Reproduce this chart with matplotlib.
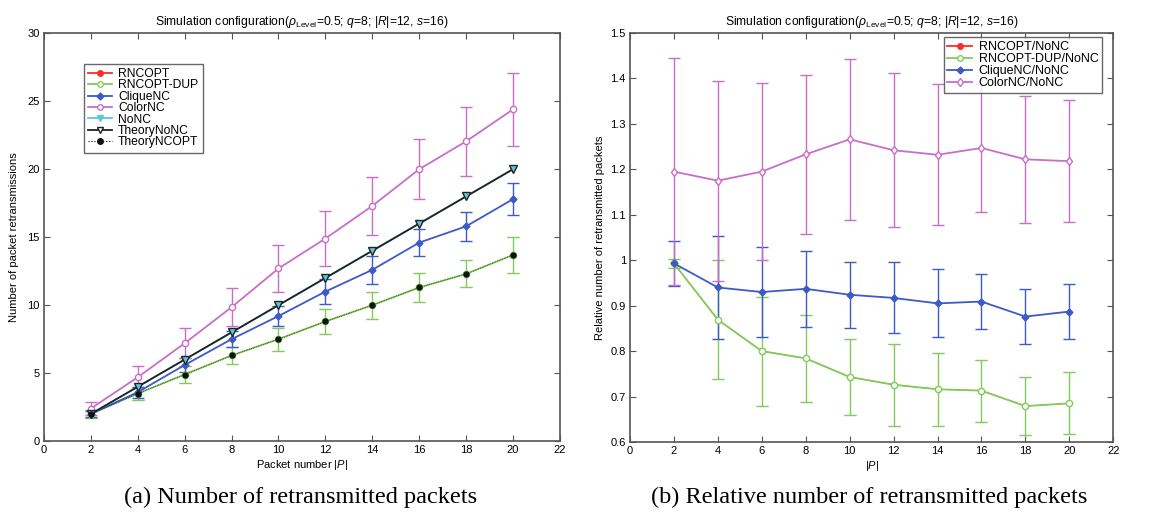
import matplotlib.pyplot as plt
from matplotlib.lines import Line2D

plt.rcParams['font.family'] = ['Liberation Sans', 'DejaVu Sans']
plt.rcParams['mathtext.fontset'] = 'custom'
plt.rcParams['mathtext.rm'] = 'Liberation Sans'
plt.rcParams['mathtext.it'] = 'Liberation Sans:italic'

packets = [2, 4, 6, 8, 10, 12, 14, 16, 18, 20]

# (a) absolute retransmissions
rncopt = [2.0, 3.5, 4.9, 6.3, 7.5, 8.8, 10.0, 11.3, 12.3, 13.7]
rncopt_err = [0.3, 0.5, 0.6, 0.6, 0.85, 0.9, 1.0, 1.1, 1.0, 1.3]
rncopt_dup = [2.0, 3.5, 4.9, 6.3, 7.5, 8.8, 10.0, 11.3, 12.3, 13.7]
rncopt_dup_err = [0.3, 0.5, 0.6, 0.6, 0.85, 0.9, 1.0, 1.1, 1.0, 1.35]
clique = [2.0, 3.6, 5.6, 7.5, 9.2, 11.0, 12.6, 14.6, 15.8, 17.8]
clique_err = [0.25, 0.4, 0.5, 0.6, 0.75, 0.9, 1.05, 1.0, 1.05, 1.2]
color = [2.4, 4.7, 7.2, 9.85, 12.7, 14.9, 17.3, 20.0, 22.05, 24.4]
color_err = [0.45, 0.8, 1.1, 1.4, 1.75, 2.0, 2.15, 2.2, 2.55, 2.7]
nonc = [2, 4, 6, 8, 10, 12, 14, 16, 18, 20]
theory_nonc = [2, 4, 6, 8, 10, 12, 14, 16, 18, 20]
theory_ncopt = [2.0, 3.5, 4.9, 6.3, 7.5, 8.8, 10.0, 11.3, 12.3, 13.7]

# (b) ratios against NoNC
r_rncopt = [0.993, 0.869, 0.80, 0.784, 0.743, 0.726, 0.716, 0.713, 0.679, 0.685]
r_rncopt_err = [0.01, 0.131, 0.12, 0.095, 0.083, 0.09, 0.08, 0.068, 0.063, 0.068]
r_dup = [0.993, 0.869, 0.80, 0.784, 0.743, 0.726, 0.716, 0.713, 0.679, 0.685]
r_dup_err = [0.01, 0.131, 0.12, 0.095, 0.083, 0.09, 0.08, 0.068, 0.063, 0.068]
r_clique = [0.993, 0.940, 0.930, 0.937, 0.924, 0.917, 0.905, 0.909, 0.876, 0.887]
r_clique_err = [0.05, 0.114, 0.1, 0.083, 0.073, 0.078, 0.075, 0.06, 0.06, 0.06]
r_color = [1.195, 1.175, 1.195, 1.233, 1.266, 1.242, 1.232, 1.247, 1.222, 1.218]
r_color_err = [0.25, 0.22, 0.195, 0.175, 0.177, 0.17, 0.155, 0.14, 0.14, 0.134]

RED = '#ff2a2a'
GREEN = '#80cc58'
BLUE = '#3c5ac8'
PINK = '#c86ec8'
CYAN = '#5ac8dc'
BLACK = '#222222'

title = (r'Simulation configuration($\rho_{\mathrm{Level}}$=0.5; $q$=8; |$R$|=12, $s$=16)')

fig = plt.figure(figsize=(11.56, 5.19), dpi=100)
ax1 = fig.add_axes([0.038, 0.150, 0.4464, 0.786])
ax2 = fig.add_axes([0.545, 0.1484, 0.418, 0.788])

eb = dict(capsize=4, lw=1.3, elinewidth=1.0, capthick=1.0, ms=4.5)
# the red series sits under the green one, keep it thin so it does not tint it
red_eb = dict(capsize=4, lw=0.6, elinewidth=0.4, capthick=0.4, ms=3.5, zorder=1)

ax1.errorbar(packets, rncopt, yerr=rncopt_err, color=RED, marker='o', **red_eb)
ax1.errorbar(packets, rncopt_dup, yerr=rncopt_dup_err, color=GREEN, marker='o',
             mfc='white', **eb)
ax1.errorbar(packets, clique, yerr=clique_err, color=BLUE, marker='D', **dict(eb, ms=3.5))
ax1.errorbar(packets, color, yerr=color_err, color=PINK, marker='o', mfc='white', **eb)
ax1.plot(packets, nonc, color=CYAN, marker='v', lw=1.3, ms=5, zorder=3)
ax1.plot(packets, theory_nonc, color=BLACK, marker='v', mfc=CYAN, lw=1.3, ms=5.5, zorder=3)
ax1.plot(packets, theory_ncopt, color='#111111', marker='o', ls=':', lw=0.5, ms=3.6,
         zorder=3)

legend_a = [
    Line2D([], [], color=RED, marker='o', lw=1.3, ms=4, label='RNCOPT'),
    Line2D([], [], color=GREEN, marker='o', mfc='white', lw=1.3, ms=4, label='RNCOPT-DUP'),
    Line2D([], [], color=BLUE, marker='D', lw=1.3, ms=3.5, label='CliqueNC'),
    Line2D([], [], color=PINK, marker='o', mfc='white', lw=1.3, ms=4, label='ColorNC'),
    Line2D([], [], color=CYAN, marker='v', lw=1.3, ms=5, label='NoNC'),
    Line2D([], [], color=BLACK, marker='v', mfc='white', lw=1.3, ms=5, label='TheoryNoNC'),
    Line2D([], [], color='#111111', marker='o', ls=':', lw=0.8, ms=4, label='TheoryNCOPT'),
]

ax1.set_xlim(0, 22)
ax1.set_ylim(0, 30)
ax1.set_xticks(range(0, 23, 2))
ax1.set_yticks(range(0, 31, 5))
ax1.set_xlabel('Packet number |$P$|', fontsize=8, labelpad=2)
ax1.set_ylabel('Number of packet retransmissions', fontsize=8, labelpad=6)
ax1.set_title(title, fontsize=8.7, pad=6)
ax1.legend(handles=legend_a, loc='upper left', bbox_to_anchor=(0.065, 0.94), fontsize=8.7,
           frameon=True, fancybox=False, edgecolor='#444444', handlelength=2.0,
           labelspacing=-0.05, borderpad=0.35, handletextpad=0.5)

ax2.errorbar(packets, r_rncopt, yerr=r_rncopt_err, color=RED, marker='o', **red_eb)
ax2.errorbar(packets, r_dup, yerr=r_dup_err, color=GREEN, marker='o', mfc='white', **eb)
ax2.errorbar(packets, r_clique, yerr=r_clique_err, color=BLUE, marker='D',
             **dict(eb, ms=3.5))
ax2.errorbar(packets, r_color, yerr=r_color_err, color=PINK, marker='d', mfc='white', **eb)

legend_b = [
    Line2D([], [], color=RED, marker='o', lw=1.3, ms=4, label='RNCOPT/NoNC'),
    Line2D([], [], color=GREEN, marker='o', mfc='white', lw=1.3, ms=4,
           label='RNCOPT-DUP/NoNC'),
    Line2D([], [], color=BLUE, marker='D', lw=1.3, ms=3.5, label='CliqueNC/NoNC'),
    Line2D([], [], color=PINK, marker='d', mfc='white', lw=1.3, ms=4.5, label='ColorNC/NoNC'),
]

ax2.set_xlim(0, 22)
ax2.set_ylim(0.6, 1.5)
ax2.set_xticks(range(0, 23, 2))
ax2.set_yticks([0.6, 0.7, 0.8, 0.9, 1.0, 1.1, 1.2, 1.3, 1.4, 1.5])
ax2.set_yticklabels(['0.6', '0.7', '0.8', '0.9', '1', '1.1', '1.2', '1.3', '1.4', '1.5'])
ax2.set_xlabel('|$P$|', fontsize=8, labelpad=2)
ax2.set_ylabel('Relative number of retransmitted packets', fontsize=8, labelpad=4)
ax2.set_title(title, fontsize=8.7, pad=6)
ax2.legend(handles=legend_b, loc='upper right', bbox_to_anchor=(0.99, 1.005), fontsize=9,
           frameon=True, fancybox=False, edgecolor='#444444', handlelength=2.0,
           labelspacing=0.0, borderpad=0.3, handletextpad=0.5)

for ax in (ax1, ax2):
    ax.tick_params(direction='in', top=True, right=True, labelsize=8, length=4,
                   color='#555555', pad=3)
    for sp in ax.spines.values():
        sp.set_color('#555555')
        sp.set_linewidth(1.2)

fig.text(0.26, 0.03, '(a) Number of retransmitted packets', ha='center',
         fontsize=17.5, family='Liberation Serif')
fig.text(0.752, 0.03, '(b) Relative number of retransmitted packets', ha='center',
         fontsize=17.5, family='Liberation Serif')

fig.savefig('out.png', dpi=100)
